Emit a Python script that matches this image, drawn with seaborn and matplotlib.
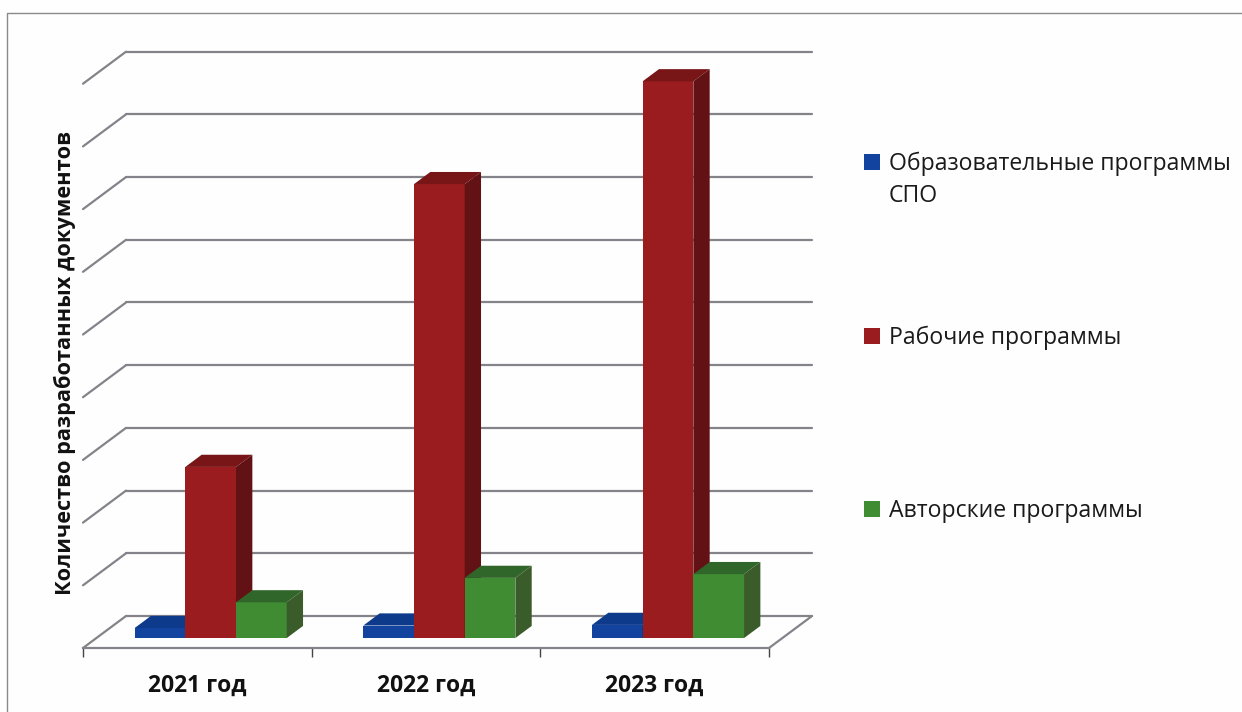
import matplotlib
matplotlib.use("Agg")
import matplotlib.pyplot as plt
import pandas as pd
import seaborn as sns
from matplotlib.lines import Line2D
from matplotlib.patches import Polygon, Rectangle

years = ["2021 год", "2022 год", "2023 год"]
series = ["Образовательные программы\nСПО", "Рабочие программы", "Авторские программы"]
obr_values = [0.16, 0.20, 0.21]
rab_values = [2.73, 7.24, 8.88]
avt_values = [0.57, 0.96, 1.02]

front_colors = ["#12439f", "#9b1c1e", "#3f8c32"]
top_colors = ["#0e3a8c", "#771517", "#31662a"]
side_colors = ["#0b2c6b", "#621214", "#3a5c2a"]
grid_color = "#85838a"

W, H = 1242, 712
LEFT, RIGHT, FLOOR, UNIT = 83, 769, 648, 62.7  # pixels
N_GRID = 9

sns.set_theme(style="white")
plt.rcParams["font.family"] = ["Open Sans", "DejaVu Sans"]

df = pd.DataFrame({
    "year": years * 3,
    "series": [s for s in series for _ in years],
    "value": obr_values + rab_values + avt_values,
})

fig = plt.figure(figsize=(W / 100, H / 100), dpi=100, facecolor="#fefefe")
ax = fig.add_axes([LEFT / W, (H - FLOOR) / H, (RIGHT - LEFT) / W, N_GRID * UNIT / H])
ax.set_facecolor("none")

sns.barplot(data=df, x="year", y="value", hue="series", hue_order=series,
            palette=front_colors, saturation=1, width=0.665, gap=0, legend=False, ax=ax)
ax.set_xlim(-0.5, 2.5)
ax.set_ylim(0, N_GRID)

# depth of the floor in data units (43 px across, 32 px up)
dx = 43 * 3 / (RIGHT - LEFT)
dy = 32 / UNIT

# back wall and left wall
for k in range(N_GRID + 1):
    ax.plot([-0.5 + dx, 2.5 + dx], [k + dy, k + dy], color=grid_color, lw=1.6, clip_on=False, zorder=1)
    ax.plot([-0.5, -0.5 + dx], [k, k + dy], color=grid_color, lw=1.6, clip_on=False, zorder=1,
            solid_capstyle="round")
ax.plot([2.5, 2.5 + dx], [0, dy], color=grid_color, lw=1.6, clip_on=False, zorder=1)

# bars stand inside the floor, each with its own top and side face
base = 0.31
depth = 0.38
for i, container in enumerate(ax.containers):
    for bar in container:
        x0 = bar.get_x() + base * dx
        x1 = x0 + bar.get_width()
        y0 = base * dy
        y1 = y0 + bar.get_height()
        ox, oy = depth * dx, depth * dy
        bar.set_x(x0)
        bar.set_y(y0)
        bar.set_edgecolor("none")
        bar.set_zorder(3 + i)
        bar.set_clip_on(False)
        ax.add_patch(Polygon([(x0, y1), (x1, y1), (x1 + ox, y1 + oy), (x0 + ox, y1 + oy)],
                             facecolor=top_colors[i], edgecolor="none", zorder=3 + i, clip_on=False))
        ax.add_patch(Polygon([(x1, y0), (x1, y1), (x1 + ox, y1 + oy), (x1 + ox, y0 + oy)],
                             facecolor=side_colors[i], edgecolor="none", zorder=3 + i, clip_on=False))

for name in ["top", "left", "right"]:
    ax.spines[name].set_visible(False)
ax.spines["bottom"].set_color(grid_color)
ax.spines["bottom"].set_linewidth(1.6)

ax.set_yticks([])
ax.set_xlabel("")
ax.set_xticks([-0.5, 0.5, 1.5, 2.5], minor=True)
ax.tick_params(axis="x", which="minor", length=6.5, width=1.0, color="#444444", bottom=True)
ax.tick_params(axis="x", which="major", length=0, pad=18.5)
for label in ax.get_xticklabels():
    label.set_fontsize(16.5)
    label.set_fontweight("bold")
    label.set_color("#111111")

ax.set_ylabel("Количество разработанных документов", fontsize=15.7, fontweight="bold", color="#111111")
ax.yaxis.set_label_coords(-0.0105, 0.505)

# legend laid out by hand so the marker stays on the first line
legend_rows = [162, 336, 509]
for label, row, color in zip(series, legend_rows, front_colors):
    fig.add_artist(Rectangle((864 / W, 1 - (row + 8) / H), 16 / W, 16 / H, transform=fig.transFigure,
                             facecolor=color, edgecolor="none"))
    fig.text(889 / W, 1 - (row - 10) / H, label, fontsize=16.6, color="#1a1a1a", va="top", ha="left",
             linespacing=1.42)

# frame of the scanned picture
fig.add_artist(Line2D([7 / W, 7 / W, 1], [0, 1 - 13 / H, 1 - 13 / H], transform=fig.transFigure,
                      color="#8a8a8a", lw=1.0))

fig.savefig("out.png", dpi=100, facecolor=fig.get_facecolor())
